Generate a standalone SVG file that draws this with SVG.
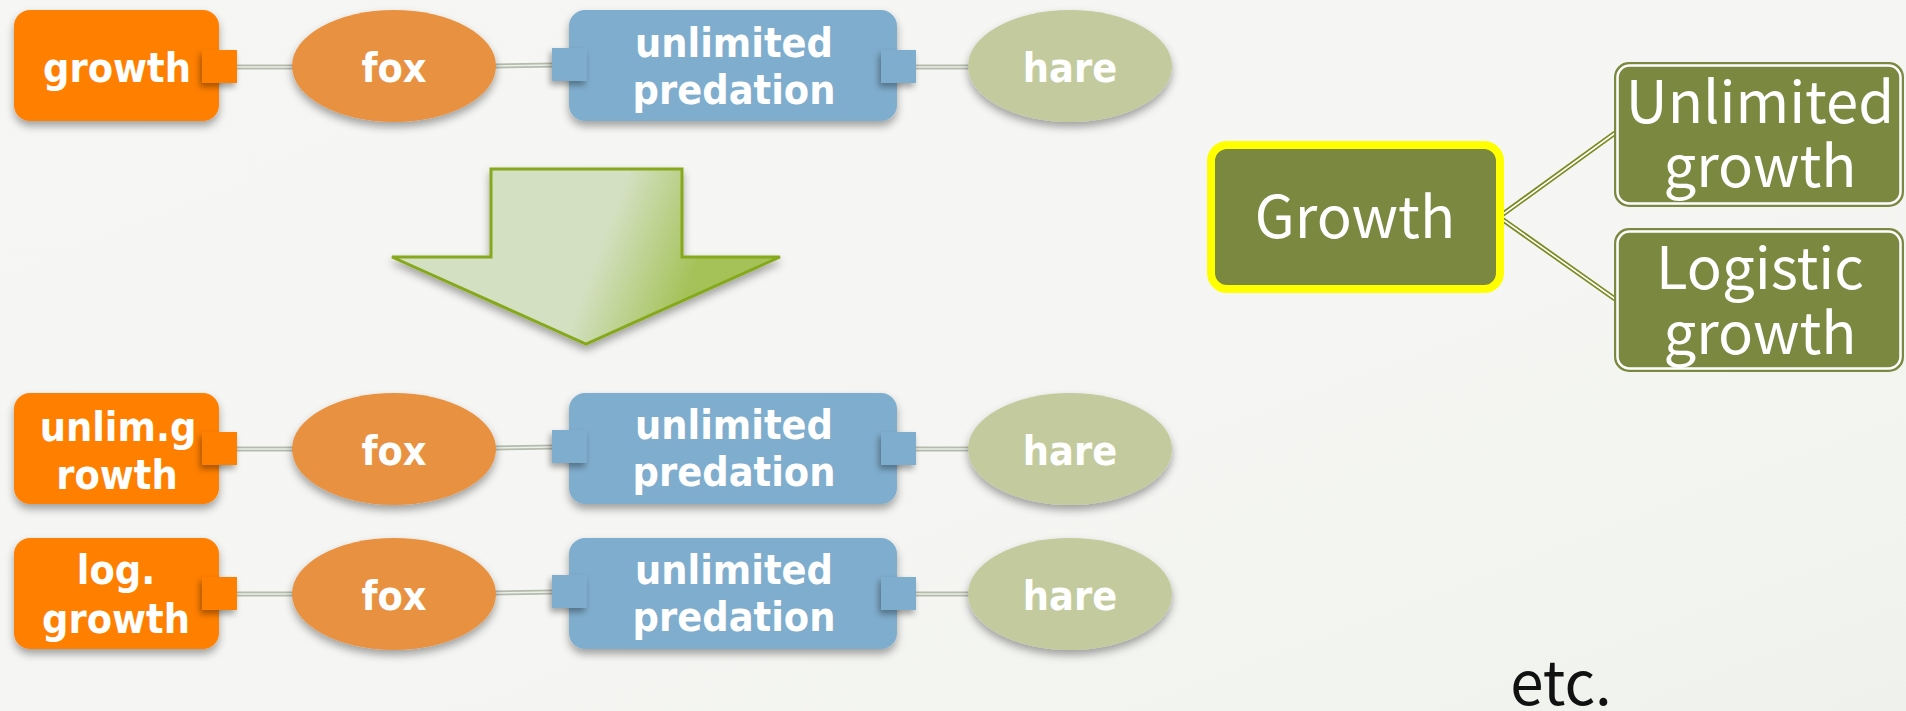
<svg xmlns="http://www.w3.org/2000/svg" width="1906" height="711" viewBox="0 0 1906 711">
  <defs>
    <linearGradient id="bg" x1="0" y1="0" x2="1" y2="1">
      <stop offset="0" stop-color="#F6F6F5"/>
      <stop offset="0.6" stop-color="#F5F6F3"/>
      <stop offset="1" stop-color="#EFF2EC"/>
    </linearGradient>
    <linearGradient id="arrowFill" gradientUnits="userSpaceOnUse" x1="600" y1="250" x2="690" y2="284">
      <stop offset="0" stop-color="#D3E0C1"/>
      <stop offset="1" stop-color="#A4C259"/>
    </linearGradient>
    <filter id="shadow" x="-20%" y="-20%" width="140%" height="150%">
      <feDropShadow dx="0" dy="5" stdDeviation="4" flood-color="#000" flood-opacity="0.35"/>
    </filter>
    <filter id="portShadow" x="-30%" y="-30%" width="160%" height="170%">
      <feDropShadow dx="-2" dy="4" stdDeviation="3" flood-color="#000" flood-opacity="0.35"/>
    </filter>
  </defs>
  <style>
    .lbl { font-family: "DejaVu Sans Condensed", "DejaVu Sans", sans-serif; font-stretch: condensed; font-weight: bold; font-size: 41px; fill: #FFFFFF; text-anchor: middle; }
    .big { font-family: "Noto Sans CJK JP", "Noto Sans", sans-serif; font-weight: 400; font-size: 58px; fill: #FFFFFF; text-anchor: middle; }
    .src { fill: #FF7F00; filter: url(#shadow); }
    .srcPort { fill: #FF7F00; filter: url(#portShadow); }
    .fox { fill: #E8913F; filter: url(#shadow); }
    .pred { fill: #7FADCD; filter: url(#shadow); }
    .predPort { fill: #7FADCD; filter: url(#portShadow); }
    .hare { fill: #C3CB9E; filter: url(#shadow); }
    .wireOuter { stroke: #B4BCAC; stroke-width: 5; fill: none; }
    .wireInner { stroke: #ECEEE8; stroke-width: 1.5; fill: none; }
    .linkOuter { stroke: #7B8A1E; stroke-width: 5; fill: none; }
    .linkInner { stroke: #FFFFFF; stroke-width: 1.6; fill: none; }
    .olive { fill: #7B8840; }
  </style>

  <rect x="0" y="0" width="1906" height="711" fill="url(#bg)"/>

  <!-- wires between model blocks -->
  <g id="connectors">
    <g class="wireOuter">
      <line x1="236" y1="67" x2="294" y2="67"/>
      <line x1="494" y1="66" x2="554" y2="65"/>
      <line x1="914" y1="67" x2="970" y2="67"/>
      <line x1="236" y1="449" x2="294" y2="449"/>
      <line x1="494" y1="448" x2="554" y2="447"/>
      <line x1="914" y1="449" x2="970" y2="449"/>
      <line x1="236" y1="594" x2="294" y2="594"/>
      <line x1="494" y1="593" x2="554" y2="592"/>
      <line x1="914" y1="594" x2="970" y2="594"/>
    </g>
    <g class="wireInner">
      <line x1="236" y1="67" x2="294" y2="67"/>
      <line x1="494" y1="66" x2="554" y2="65"/>
      <line x1="914" y1="67" x2="970" y2="67"/>
      <line x1="236" y1="449" x2="294" y2="449"/>
      <line x1="494" y1="448" x2="554" y2="447"/>
      <line x1="914" y1="449" x2="970" y2="449"/>
      <line x1="236" y1="594" x2="294" y2="594"/>
      <line x1="494" y1="593" x2="554" y2="592"/>
      <line x1="914" y1="594" x2="970" y2="594"/>
    </g>
    <!-- tree links -->
    <g class="linkOuter">
      <polyline points="1615,133 1499,217 1615,299"/>
    </g>
    <g class="linkInner">
      <polyline points="1615,133 1499,217 1615,299"/>
    </g>
  </g>

  <!-- row 1 -->
  <g id="growth">
    <rect class="src" x="14" y="10" width="205" height="111" rx="16"/>
    <rect class="srcPort" x="202" y="50" width="35" height="33"/>
    <text class="lbl" x="117" y="82">growth</text>
  </g>
  <g id="fox1">
    <ellipse class="fox" cx="394" cy="66" rx="102" ry="56"/>
    <text class="lbl" x="394" y="82">fox</text>
  </g>
  <g id="predation1">
    <rect class="pred" x="569" y="10" width="328" height="111" rx="16"/>
    <rect class="predPort" x="552" y="48" width="35" height="33"/>
    <rect class="predPort" x="881" y="50" width="35" height="33"/>
    <text class="lbl" x="734" y="57">unlimited</text>
    <text class="lbl" x="734" y="104">predation</text>
  </g>
  <g id="hare1">
    <ellipse class="hare" cx="1070" cy="66" rx="102" ry="56"/>
    <text class="lbl" x="1070" y="82">hare</text>
  </g>

  <!-- transform arrow -->
  <g id="arrow">
    <polygon points="491,169 682,169 682,257 780,257 586,344 392,257 491,257" fill="url(#arrowFill)" stroke="#86A81A" stroke-width="3" filter="url(#shadow)"/>
  </g>

  <!-- row 2 -->
  <g id="unlim-growth">
    <rect class="src" x="14" y="393" width="205" height="111" rx="16"/>
    <rect class="srcPort" x="202" y="432" width="35" height="33"/>
    <text class="lbl" x="118" y="441">unlim.g</text>
    <text class="lbl" x="117" y="489">rowth</text>
  </g>
  <g id="fox2">
    <ellipse class="fox" cx="394" cy="449" rx="102" ry="56"/>
    <text class="lbl" x="394" y="465">fox</text>
  </g>
  <g id="predation2">
    <rect class="pred" x="569" y="393" width="328" height="111" rx="16"/>
    <rect class="predPort" x="552" y="430" width="35" height="33"/>
    <rect class="predPort" x="881" y="432" width="35" height="33"/>
    <text class="lbl" x="734" y="439">unlimited</text>
    <text class="lbl" x="734" y="486">predation</text>
  </g>
  <g id="hare2">
    <ellipse class="hare" cx="1070" cy="449" rx="102" ry="56"/>
    <text class="lbl" x="1070" y="465">hare</text>
  </g>

  <!-- row 3 -->
  <g id="log-growth">
    <rect class="src" x="14" y="538" width="205" height="111" rx="16"/>
    <rect class="srcPort" x="202" y="577" width="35" height="33"/>
    <text class="lbl" x="116" y="584">log.</text>
    <text class="lbl" x="116" y="633">growth</text>
  </g>
  <g id="fox3">
    <ellipse class="fox" cx="394" cy="594" rx="102" ry="56"/>
    <text class="lbl" x="394" y="610">fox</text>
  </g>
  <g id="predation3">
    <rect class="pred" x="569" y="538" width="328" height="111" rx="16"/>
    <rect class="predPort" x="552" y="575" width="35" height="33"/>
    <rect class="predPort" x="881" y="577" width="35" height="33"/>
    <text class="lbl" x="734" y="584">unlimited</text>
    <text class="lbl" x="734" y="631">predation</text>
  </g>
  <g id="hare3">
    <ellipse class="hare" cx="1070" cy="594" rx="102" ry="56"/>
    <text class="lbl" x="1070" y="610">hare</text>
  </g>

  <!-- growth hierarchy -->
  <g id="Growth">
    <rect x="1211" y="145" width="289" height="144" rx="16" fill="#7B8840" stroke="#FFFF00" stroke-width="8"/>
    <text class="big" x="1355" y="238">Growth</text>
  </g>
  <g id="UnlimitedGrowth">
    <rect class="olive" x="1614" y="62" width="290" height="145" rx="15"/>
    <rect x="1617.5" y="65.5" width="283" height="138" rx="12" fill="none" stroke="#FFFFFF" stroke-width="2.5"/>
    <text class="big" x="1760" y="123">Unlimited</text>
    <text class="big" x="1760" y="187">growth</text>
  </g>
  <g id="LogisticGrowth">
    <rect class="olive" x="1614" y="228" width="290" height="144" rx="15"/>
    <rect x="1617.5" y="231.5" width="283" height="137" rx="12" fill="none" stroke="#FFFFFF" stroke-width="2.5"/>
    <text class="big" x="1760" y="289">Logistic</text>
    <text class="big" x="1760" y="354">growth</text>
  </g>

  <text x="1561" y="705" font-family="'Noto Sans CJK JP', 'Noto Sans', sans-serif" font-size="60" fill="#111111" text-anchor="middle">etc.</text>
</svg>
